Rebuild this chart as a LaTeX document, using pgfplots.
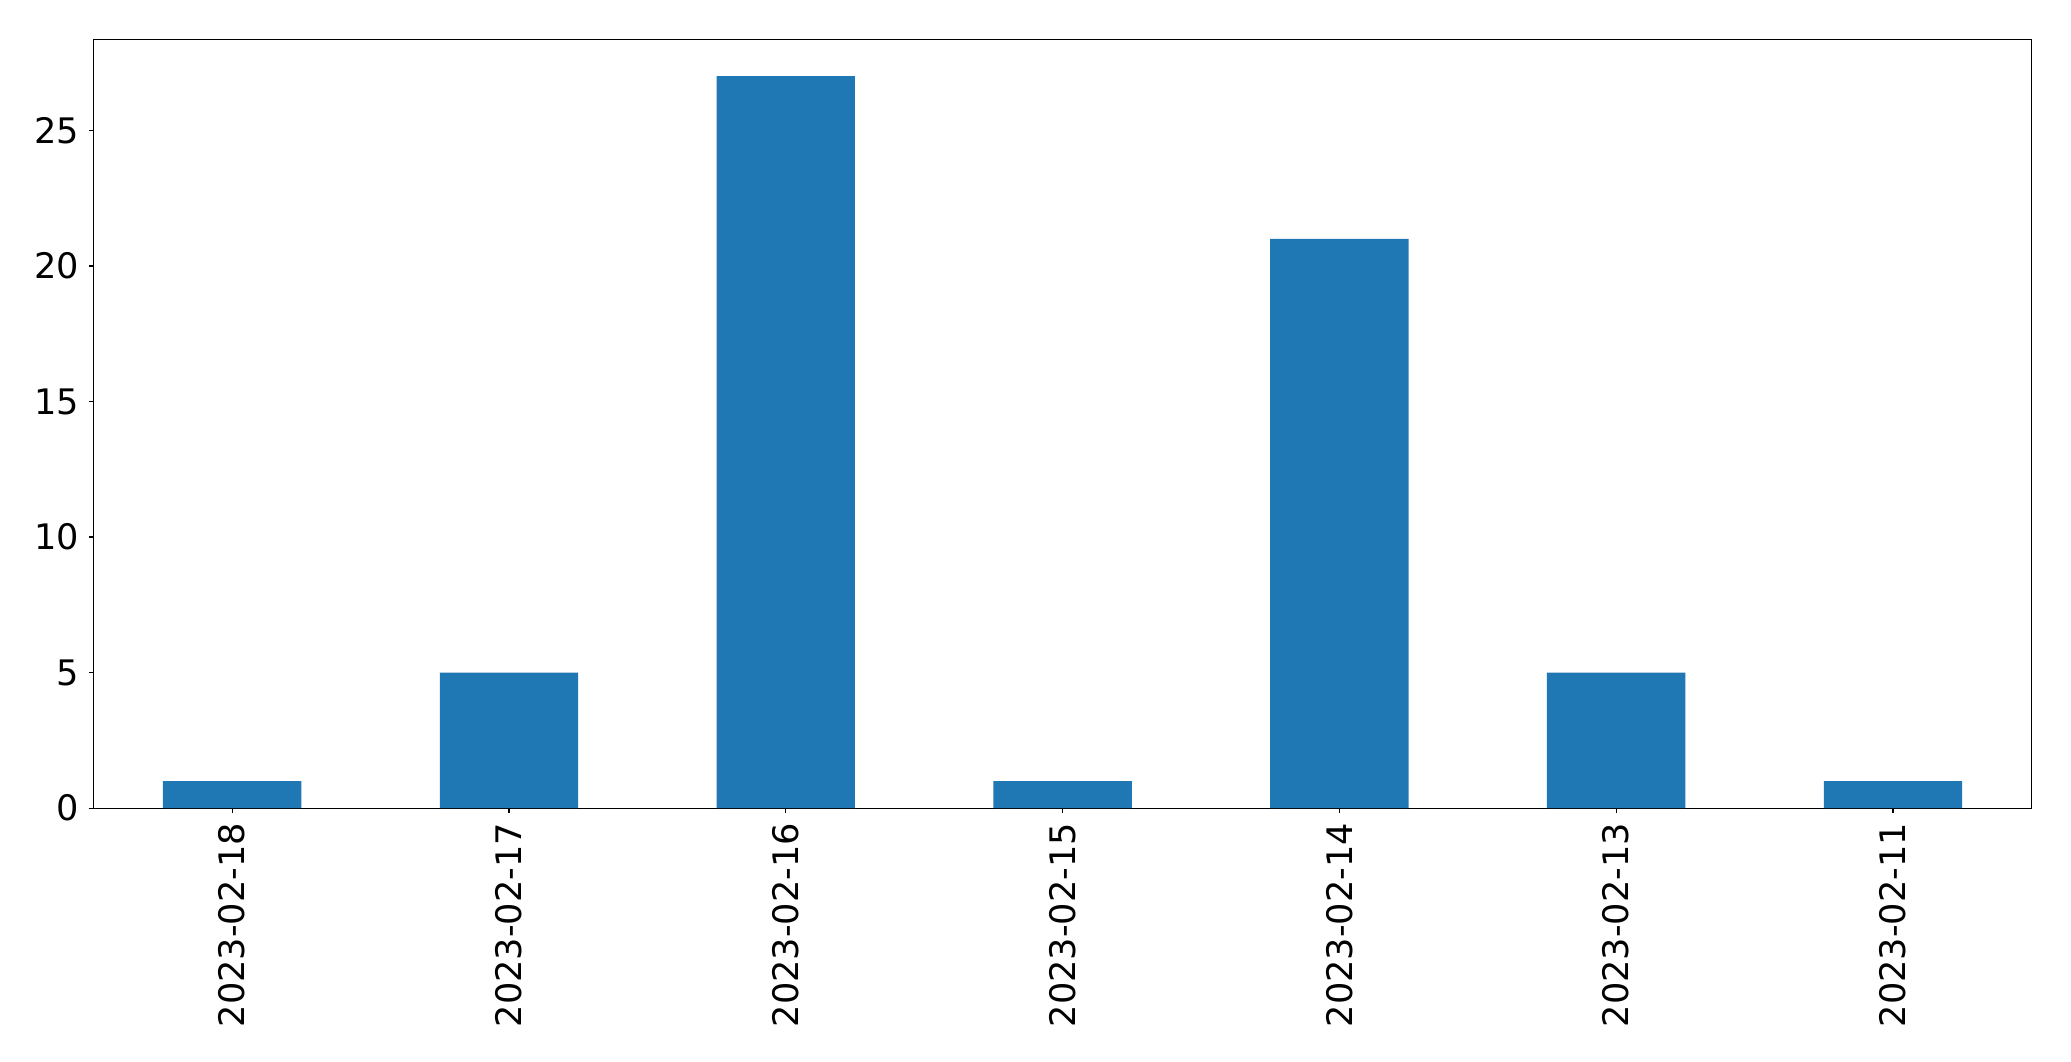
\documentclass[border=0pt]{standalone}
\usepackage{pgfplots}
\pgfplotsset{compat=1.18}
\usepackage{fontspec}
\setmainfont{DejaVu Sans}
\definecolor{mplblue}{HTML}{1F77B4}
\begin{document}
\begin{tikzpicture}
\begin{axis}[
  at={(0pt,0pt)}, anchor=south west,
  scale only axis, width=1395pt, height=553.3pt,
  xmin=-0.5, xmax=6.5, ymin=0, ymax=28.35,
  xtick={0,1,2,3,4,5,6},
  xticklabels={2023-02-18,2023-02-17,2023-02-16,2023-02-15,2023-02-14,2023-02-13,2023-02-11},
  ytick={0,5,10,15,20,25},
  /pgf/number format/assume math mode=true,
  tick label style={font=\fontsize{25.3}{30}\selectfont},
  xticklabel style={rotate=90, anchor=east, inner sep=0pt, xshift=-7pt},
  yticklabel style={inner sep=0pt, xshift=-7pt},
  tick align=outside, tick pos=left, major tick length=3.5pt,
  every tick/.style={black, line width=0.8pt},
  axis line style={line width=0.8pt},
  ymajorgrids=false,
]
\addplot[ybar, bar width=0.5, fill=mplblue, draw=none] coordinates {
 (0,1) (1,5) (2,27) (3,1) (4,21) (5,5) (6,1)
};
\end{axis}
\path[use as bounding box] (-67.5pt,-182.2pt) rectangle (1423.5pt,581.8pt);
\end{tikzpicture}
\end{document}
